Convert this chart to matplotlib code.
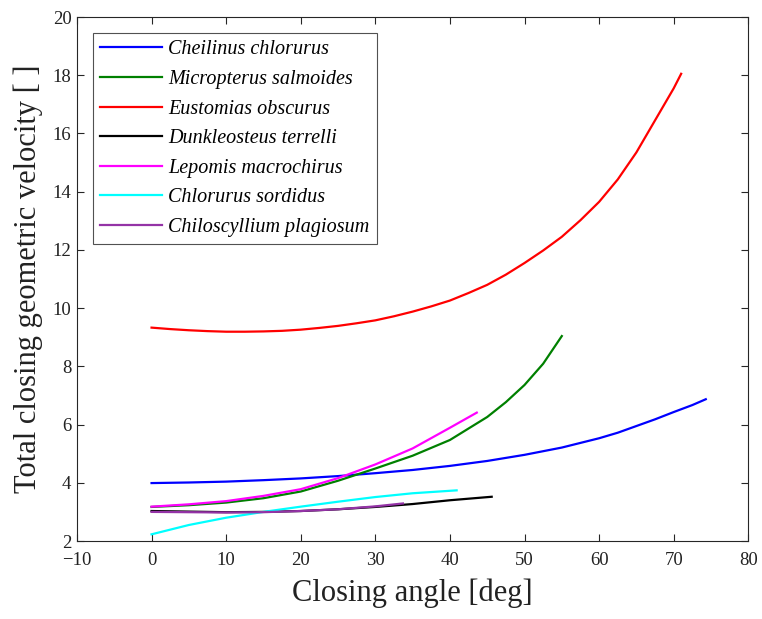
import matplotlib
matplotlib.use("Agg")
import matplotlib.pyplot as plt

plt.rcParams['font.family'] = ['Liberation Serif', 'DejaVu Serif']

# Data
cheilinus_x = [0, 5, 10, 15, 20, 25, 30, 35, 40, 45, 50, 55, 60, 62.5, 65, 67.5, 70, 72.5, 74.3]
cheilinus_y = [3.99, 4.01, 4.04, 4.09, 4.15, 4.23, 4.33, 4.44, 4.58, 4.75, 4.96, 5.21, 5.53,
               5.72, 5.95, 6.18, 6.43, 6.67, 6.87]

micropterus_x = [0, 5, 10, 15, 20, 25, 30, 35, 40, 45, 47.5, 50, 52.5, 55]
micropterus_y = [3.17, 3.23, 3.32, 3.47, 3.70, 4.07, 4.49, 4.93, 5.47, 6.26, 6.77, 7.36, 8.09, 9.04]

eustomias_x = [0, 2.5, 5, 7.5, 10, 12.5, 15, 17.5, 20, 22.5, 25, 27.5, 30, 32.5, 35, 37.5,
               40, 42.5, 45, 47.5, 50, 52.5, 55, 57.5, 60, 62.5, 65, 67.5, 70, 71]
eustomias_y = [9.33, 9.28, 9.24, 9.21, 9.19, 9.19, 9.20, 9.22, 9.26, 9.32, 9.39, 9.48, 9.58,
               9.72, 9.88, 10.06, 10.26, 10.52, 10.80, 11.15, 11.55, 11.98, 12.45, 13.02,
               13.65, 14.42, 15.35, 16.45, 17.55, 18.05]

dunkleosteus_x = [0, 5, 10, 15, 20, 25, 30, 35, 40, 45.6]
dunkleosteus_y = [3.03, 3.01, 2.99, 3.0, 3.03, 3.09, 3.17, 3.27, 3.40, 3.52]

lepomis_x = [0, 5, 10, 15, 20, 25, 30, 35, 40, 43.6]
lepomis_y = [3.18, 3.26, 3.37, 3.55, 3.78, 4.16, 4.63, 5.18, 5.89, 6.41]

chlorurus_x = [0, 5, 10, 15, 20, 25, 30, 35, 40.9]
chlorurus_y = [2.23, 2.55, 2.80, 3.0, 3.18, 3.35, 3.51, 3.64, 3.74]

chiloscyllium_x = [0, 5, 10, 15, 20, 25, 30, 33.7]
chiloscyllium_y = [3.0, 2.99, 2.98, 2.99, 3.03, 3.09, 3.19, 3.29]

series = [
    ("Cheilinus chlorurus", cheilinus_x, cheilinus_y, (0, 0, 1)),
    ("Micropterus salmoides", micropterus_x, micropterus_y, (0, 0.5, 0)),
    ("Eustomias obscurus", eustomias_x, eustomias_y, (1, 0, 0)),
    ("Dunkleosteus terrelli", dunkleosteus_x, dunkleosteus_y, (0, 0, 0)),
    ("Lepomis macrochirus", lepomis_x, lepomis_y, (1, 0, 1)),
    ("Chlorurus sordidus", chlorurus_x, chlorurus_y, (0, 1, 1)),
    ("Chiloscyllium plagiosum", chiloscyllium_x, chiloscyllium_y, (0.58, 0.2, 0.65)),
]

x_ticks = [-10, 0, 10, 20, 30, 40, 50, 60, 70, 80]
y_ticks = [2, 4, 6, 8, 10, 12, 14, 16, 18, 20]

fig = plt.figure(figsize=(7.62, 6.19), dpi=100)
ax = fig.add_axes([0.101, 0.126, 0.881, 0.8465])

for name, xs, ys, c in series:
    ax.plot(xs, ys, color=c, lw=1.6, label=name, solid_joinstyle='round')

ax.set_xlim(-10, 80)
ax.set_ylim(2, 20)
ax.set_xticks(x_ticks)
ax.set_yticks(y_ticks)
ax.set_xticklabels(["\u221210" if t < 0 else str(t) for t in x_ticks])
ax.tick_params(direction='in', length=5, width=0.8, top=True, right=True,
               labelsize=13.5, colors=(0.15, 0.15, 0.15), labelcolor='#222222')
ax.tick_params(axis='x', pad=8)
ax.tick_params(axis='y', pad=4)
for s in ax.spines.values():
    s.set_color((0.15, 0.15, 0.15))
    s.set_linewidth(0.8)

ax.set_xlabel("Closing angle [deg]", fontsize=22, color='#222222', labelpad=7)
ax.set_ylabel("Total closing geometric velocity [ ]", fontsize=22, color='#222222', labelpad=7)

leg = ax.legend(loc='upper left', bbox_to_anchor=(0.0238, 0.969),
                prop={'style': 'italic', 'size': 14.5}, frameon=True, fancybox=False,
                edgecolor=(0.15, 0.15, 0.15), handlelength=3.1, handletextpad=0.3,
                labelspacing=0.52, borderpad=0.35, borderaxespad=0)
leg.get_frame().set_linewidth(0.8)

fig.savefig("out.png", dpi=100)
